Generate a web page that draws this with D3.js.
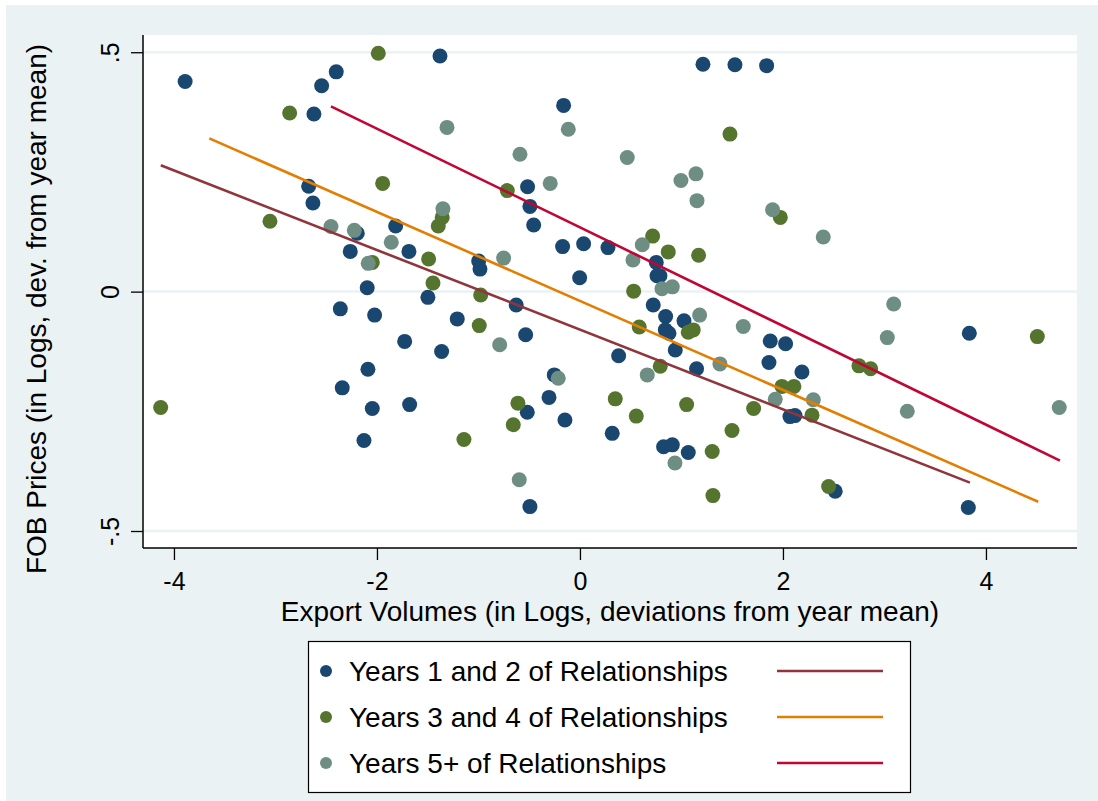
<!DOCTYPE html>
<html>
<head>
<meta charset="utf-8">
<script src="https://cdn.jsdelivr.net/npm/d3@7"></script>
<style>
  html, body { margin: 0; padding: 0; background: #ffffff; }
  svg { display: block; }
  text { font-family: "Liberation Sans", Arial, sans-serif; fill: #000; }
</style>
</head>
<body>
<svg id="chart" width="1098" height="801"></svg>
<script>
// ---------- DATA ----------
const seriesNames = ["Years 1 and 2 of Relationships", "Years 3 and 4 of Relationships", "Years 5+ of Relationships"];

const years12 = [
  [-3.89,0.439],[-1.379,0.492],[-2.401,0.459],[-2.545,0.430],[-2.621,0.371],[-2.673,0.220],[-2.631,0.185],
  [-2.194,0.122],[-1.816,0.137],[-2.263,0.084],[-1.685,0.084],[-2.096,0.008],[-1.498,-0.012],[1.212,0.475],
  [1.527,0.474],[1.839,0.472],[-0.161,0.389],[-0.516,0.219],[-0.493,0.178],[-0.456,0.139],[-0.171,0.094],
  [0.036,0.100],[0.276,0.092],[0.752,0.061],[0.759,0.033],[0.788,0.033],[-0.998,0.064],[-0.985,0.047],
  [-0.003,0.029],[-0.628,-0.028],[0.722,-0.028],[-1.209,-0.057],[-0.535,-0.090],[-1.363,-0.125],
  [-0.253,-0.174],[-0.519,-0.252],[-0.305,-0.221],[-0.148,-0.268],[-0.493,-0.449],[0.381,-0.134],
  [1.149,-0.161],[0.318,-0.296],[0.824,-0.324],[0.910,-0.320],[1.067,-0.336],[0.844,-0.052],[1.025,-0.061],
  [0.841,-0.080],[0.877,-0.087],[0.939,-0.122],[-2.361,-0.036],[-2.023,-0.049],[-1.727,-0.104],
  [-2.089,-0.162],[-2.342,-0.201],[-2.046,-0.244],[-1.678,-0.236],[-2.128,-0.311],[3.836,-0.087],
  [1.875,-0.103],[2.026,-0.109],[1.862,-0.148],[2.187,-0.168],[2.069,-0.261],[2.118,-0.259],
  [2.515,-0.417],[3.826,-0.451]
];

const years34 = [
  [-1.987,0.498],[-2.860,0.373],[-1.944,0.226],[-3.054,0.147],[-1.357,0.155],[-1.396,0.137],[-2.046,0.061],
  [-1.491,0.068],[-1.448,0.018],[1.478,0.329],[-0.716,0.211],[0.716,0.116],[0.870,0.083],[1.169,0.076],
  [-0.978,-0.007],[0.529,0.001],[-0.992,-0.071],[-0.611,-0.233],[-0.657,-0.278],[-1.143,-0.309],
  [0.791,-0.156],[0.348,-0.224],[0.555,-0.260],[1.051,-0.236],[1.498,-0.290],[1.711,-0.244],[1.303,-0.334],
  [1.310,-0.426],[0.584,-0.074],[1.067,-0.085],[1.116,-0.080],[-4.131,-0.242],[4.506,-0.094],[2.749,-0.155],
  [2.864,-0.161],[1.990,-0.198],[2.108,-0.198],[2.286,-0.258],[2.450,-0.407],[1.974,0.155]
];

const years5plus = [
  [-1.310,0.343],[-2.453,0.136],[-2.223,0.128],[-1.350,0.173],[-1.859,0.103],[-2.086,0.059],[-0.115,0.339],
  [-0.591,0.287],[0.466,0.280],[0.995,0.232],[1.143,0.246],[1.153,0.190],[-0.293,0.226],[0.614,0.098],
  [0.522,0.066],[0.808,0.006],[0.910,0.010],[-0.752,0.070],[-0.791,-0.111],[-0.214,-0.181],[-0.598,-0.393],
  [0.663,-0.174],[1.379,-0.151],[0.936,-0.358],[1.179,-0.049],[1.609,-0.073],[3.091,-0.026],[3.028,-0.096],
  [1.924,-0.225],[2.299,-0.226],[3.225,-0.250],[4.722,-0.242],[1.898,0.171],[2.397,0.114]
];

// linear fit lines: [x, y] at both ends
const fit12 = [[-4.13, 0.264], [3.842, -0.399]];
const fit34 = [[-3.652, 0.320], [4.515, -0.439]];
const fit5plus = [[-2.453, 0.387], [4.729, -0.353]];

const xTicks = [-4, -2, 0, 2, 4];
const xTickLabels = ["-4", "-2", "0", "2", "4"];
const yTicks = [-0.5, 0, 0.5];
const yTickLabels = ["-.5", "0", ".5"];

const xTitle = "Export Volumes (in Logs, deviations from year mean)";
const yTitle = "FOB Prices (in Logs, dev. from year mean)";

// ---------- STYLE ----------
const bg = "#eaf2f3";
const markerColors = ["#1a476f", "#55752f", "#6e8e84"];
const lineColors = ["#90353b", "#e37e00", "#c10534"];

const svg = d3.select("#chart");
svg.append("rect").attr("x", 6).attr("y", 5).attr("width", 1092).attr("height", 796).attr("fill", bg);

const plot = { left: 143, right: 1077, top: 35, bottom: 548 };
svg.append("rect").attr("x", plot.left).attr("y", plot.top)
  .attr("width", plot.right - plot.left).attr("height", plot.bottom - plot.top).attr("fill", "#ffffff");

const x = d3.scaleLinear().domain([-4.305, 4.897]).range([plot.left, plot.right]);
const y = d3.scaleLinear().domain([-0.5355, 0.536]).range([plot.bottom, plot.top]);

// gridlines
svg.append("g").selectAll("line").data(yTicks).join("line")
  .attr("x1", plot.left).attr("x2", plot.right)
  .attr("y1", d => y(d)).attr("y2", d => y(d))
  .attr("stroke", bg).attr("stroke-width", 2.5);

// markers
const groups = [years12, years34, years5plus];
groups.forEach((g, i) => {
  svg.append("g").selectAll("circle").data(g).join("circle")
    .attr("cx", d => x(d[0])).attr("cy", d => y(d[1])).attr("r", 7.5)
    .attr("fill", markerColors[i]);
});

// fit lines
const line = d3.line().x(d => x(d[0])).y(d => y(d[1]));
[fit12, fit34, fit5plus].forEach((f, i) => {
  svg.append("path").attr("d", line(f)).attr("fill", "none")
    .attr("stroke", lineColors[i]).attr("stroke-width", 2.6);
});

// axes
const xAxis = d3.axisBottom(x).tickValues(xTicks).tickSize(12)
  .tickFormat((d, i) => xTickLabels[i]);
const gx = svg.append("g").attr("transform", `translate(0,${plot.bottom})`).call(xAxis);
gx.select(".domain").attr("stroke", "#000").attr("stroke-width", 1.5)
  .attr("d", `M${plot.left},0H${plot.right}`);
gx.selectAll(".tick line").attr("stroke", "#000").attr("stroke-width", 1.3);
gx.selectAll(".tick text").attr("y", 42).attr("dy", 0)
  .style("font-size", "25px").style("font-family", "Liberation Sans, Arial, sans-serif").attr("fill", "#000");

const yAxis = d3.axisLeft(y).tickValues(yTicks).tickSize(12)
  .tickFormat((d, i) => yTickLabels[i]);
const gy = svg.append("g").attr("transform", `translate(${plot.left},0)`).call(yAxis);
gy.select(".domain").attr("stroke", "#000").attr("stroke-width", 1.5)
  .attr("d", `M0,${plot.top}V${plot.bottom}`);
gy.selectAll(".tick line").attr("stroke", "#000").attr("stroke-width", 1.3);
gy.selectAll(".tick text").attr("x", 0).attr("y", 0).attr("dy", 0)
  .attr("text-anchor", "middle").attr("transform", "translate(-24,0) rotate(-90)")
  .style("font-size", "25px").style("font-family", "Liberation Sans, Arial, sans-serif").attr("fill", "#000");

// titles
svg.append("text").attr("x", (plot.left + plot.right) / 2).attr("y", 621)
  .attr("text-anchor", "middle").style("font-size", "28px").text(xTitle);
svg.append("text").attr("transform", "translate(46,309) rotate(-90)")
  .attr("text-anchor", "middle").style("font-size", "28px").text(yTitle);

// legend
const lg = svg.append("g");
lg.append("rect").attr("x", 308.5).attr("y", 641.5).attr("width", 602).attr("height", 151)
  .attr("fill", "#fff").attr("stroke", "#000").attr("stroke-width", 1.2);
const rowY = [671, 717, 763];
seriesNames.forEach((name, i) => {
  lg.append("circle").attr("cx", 326).attr("cy", rowY[i]).attr("r", 6).attr("fill", markerColors[i]);
  lg.append("text").attr("x", 349).attr("y", rowY[i] + 10).style("font-size", "28px").text(name);
  lg.append("line").attr("x1", 777).attr("x2", 883).attr("y1", rowY[i]).attr("y2", rowY[i])
    .attr("stroke", lineColors[i]).attr("stroke-width", 2.6);
});
</script>
</body>
</html>
